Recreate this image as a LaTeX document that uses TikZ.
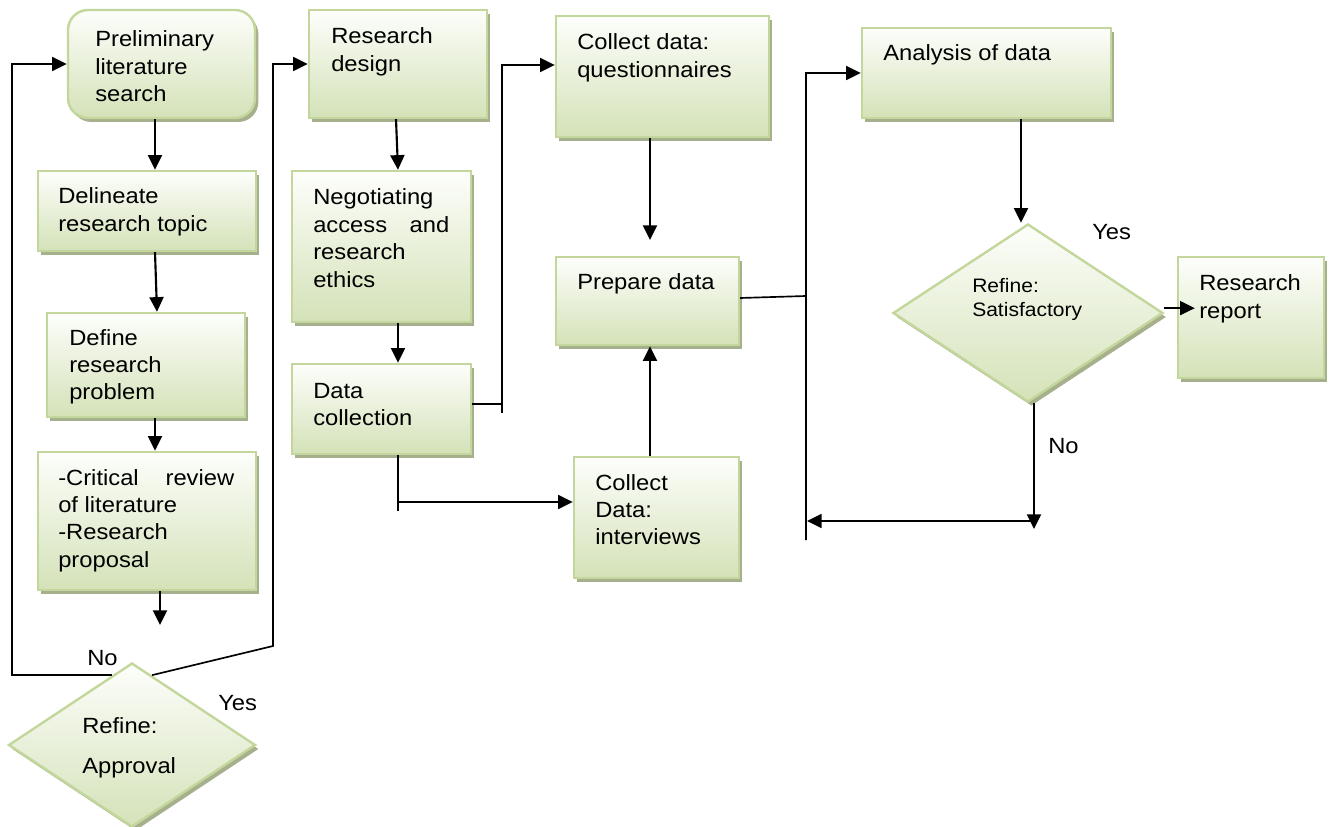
\documentclass[tikz,border=0pt]{standalone}
\usepackage{fontspec}
\setmainfont[FakeStretch=1.08]{Liberation Sans}
\usetikzlibrary{arrows.meta,shapes.geometric,shadows}

\definecolor{boxedge}{HTML}{C3D69B}
\definecolor{boxtop}{HTML}{FDFEFB}
\definecolor{boxbottom}{HTML}{D4E2B8}
\definecolor{boxshadow}{HTML}{A6B08D}

\newcommand\bodysize{\fontsize{16.5}{20.6}\selectfont}
\newcommand\smallersize{\fontsize{14.6}{18}\selectfont}
\newcommand\lines[1]{\parbox[t]{200pt}{\raggedright #1}}

\tikzset{
  box/.style={draw=boxedge, line width=1.8pt, top color=boxtop, bottom color=boxbottom,
    general shadow={fill=boxshadow, shadow xshift=2.5pt, shadow yshift=-3pt}, inner sep=0pt},
  sized/.style 2 args={minimum width=#1*0.75pt, minimum height=#2*0.75pt},
  caption/.style={anchor=base west, inner sep=0pt, font=\bodysize},
  tipped/.style={-{Triangle[length=11pt,width=10.5pt]}},
  conn/.style={line width=1.6pt, tipped},
  link/.style={line width=1.25pt},
}

\begin{document}
\begin{tikzpicture}[x=0.75pt,y=-0.75pt]
\useasboundingbox (0,0) rectangle (1332,827);

% process boxes and decisions
\node[box, sized={187}{108}, rounded corners=15pt] (prelim) at (161.5,64) {};
\node[box, sized={218}{80}]  (topic)      at (147,211) {};
\node[box, sized={198}{104}] (problem)    at (146,365) {};
\node[box, sized={218}{138}] (review)     at (147,521) {};
\node[box, diamond, sized={247}{164}] (approval) at (132,745) {};
\node[box, sized={178}{108}] (design)     at (398,64) {};
\node[box, sized={179}{151}] (access)     at (381.5,246.5) {};
\node[box, sized={179}{90}]  (collection) at (381.5,409) {};
\node[box, sized={213}{121}] (quest)      at (662.5,76.5) {};
\node[box, sized={183}{88}]  (prepare)    at (647.5,301) {};
\node[box, sized={165}{121}] (interv)     at (656.5,517.5) {};
\node[box, sized={249}{90}]  (analysis)   at (986.5,73) {};
\node[box, diamond, sized={270}{178}] (satisf) at (1028,313) {};
\node[box, sized={146}{121}] (report)     at (1251,317.5) {};

% box texts
\node[caption] (tprelim) at (95,47) {\lines{Preliminary\\literature\\search}};
\node[caption] (ttopic) at (58,204) {\lines{Delineate\\research topic}};
\node[caption] (tproblem) at (69,345) {\lines{Define\\research\\problem}};
\node[caption] (treview) at (58,485) {\lines{\makebox[132pt][s]{-Critical review}\\of literature\\-Research\\proposal}};
\node[caption] (tapproval) at (82,733) {\lines{Refine:\\[10pt]Approval}};
\node[caption] (tdesign) at (331,44) {\lines{Research\\design}};
\node[caption] (taccess) at (313,205) {\lines{Negotiating\\\makebox[102pt][s]{access and}\\research\\ethics}};
\node[caption] (tcollection) at (313,398) {\lines{Data\\collection}};
\node[caption] (tquest) at (577,50) {\lines{Collect data:\\questionnaires}};
\node[caption] (tprepare) at (577,290) {Prepare data};
\node[caption] (tinterv) at (595,490) {\lines{Collect\\Data:\\interviews}};
\node[caption] (tanalysis) at (883,61) {Analysis of data};
\node[caption, font=\smallersize] (tsatisf) at (972,293) {\lines{Refine:\\Satisfactory}};
\node[caption] (treport) at (1199,291) {\lines{Research\\report}};

% branch labels
\node[caption] (noA) at (87,665) {No};
\node[caption] (yesA) at (218,710) {Yes};
\node[caption] (yesB) at (1092,240) {Yes};
\node[caption] (noB) at (1048,453) {No};

% free ends
\coordinate (stubA) at (160,625);
\coordinate (stubB) at (650,240);
\coordinate (nodrop) at (1034,529);
\coordinate (backjoin) at (807,521);

% left column
\draw[conn] (155,0 |- prelim.south) -- (155,0 |- topic.north);
\draw[conn] (155,0 |- topic.south) -- (157,0 |- problem.north);
\draw[conn] (155,0 |- problem.south) -- (155,0 |- review.north);
\draw[conn] (160,0 |- review.south) -- (stubA);
\draw[link, tipped] (approval.106) -- (12,0 |- approval.106) -- (12,0 |- prelim.west) -- (prelim.west);
\draw[link, tipped] (approval.74) -- (273,646) -- (273,0 |- design.west) -- (design.west);

% middle columns
\draw[conn] (396,0 |- design.south) -- (398,0 |- access.north);
\draw[conn] (398,0 |- access.south) -- (398,0 |- collection.north);
\draw[link, tipped] ([yshift=3.75pt]collection.east) -- (502,404) (502,413) -- (502,65) -- (quest.west |- 0,65);
\draw[link, tipped] (398,0 |- collection.south) -- (398,511) (398,502) -- (interv.west |- 0,502);
\draw[conn] (650,0 |- quest.south) -- (stubB);
\draw[conn] (650,0 |- interv.north) -- (650,0 |- prepare.south);

% right part
\draw[link, tipped] ([yshift=2.25pt]prepare.east) -- (806,296) (806,540) -- (806,0 |- analysis.west) -- (analysis.west);
\draw[conn] (1021,0 |- analysis.south) -- (1021,0 |- satisf.north);
\draw[link, tipped] ([yshift=3.75pt]satisf.east) -- ([xshift=13.5pt,yshift=7pt]report.west);
\draw[conn] (1034,0 |- satisf.south) -- (nodrop);
\draw[link, tipped] (1034,521) -- (backjoin);
\end{tikzpicture}
\end{document}
